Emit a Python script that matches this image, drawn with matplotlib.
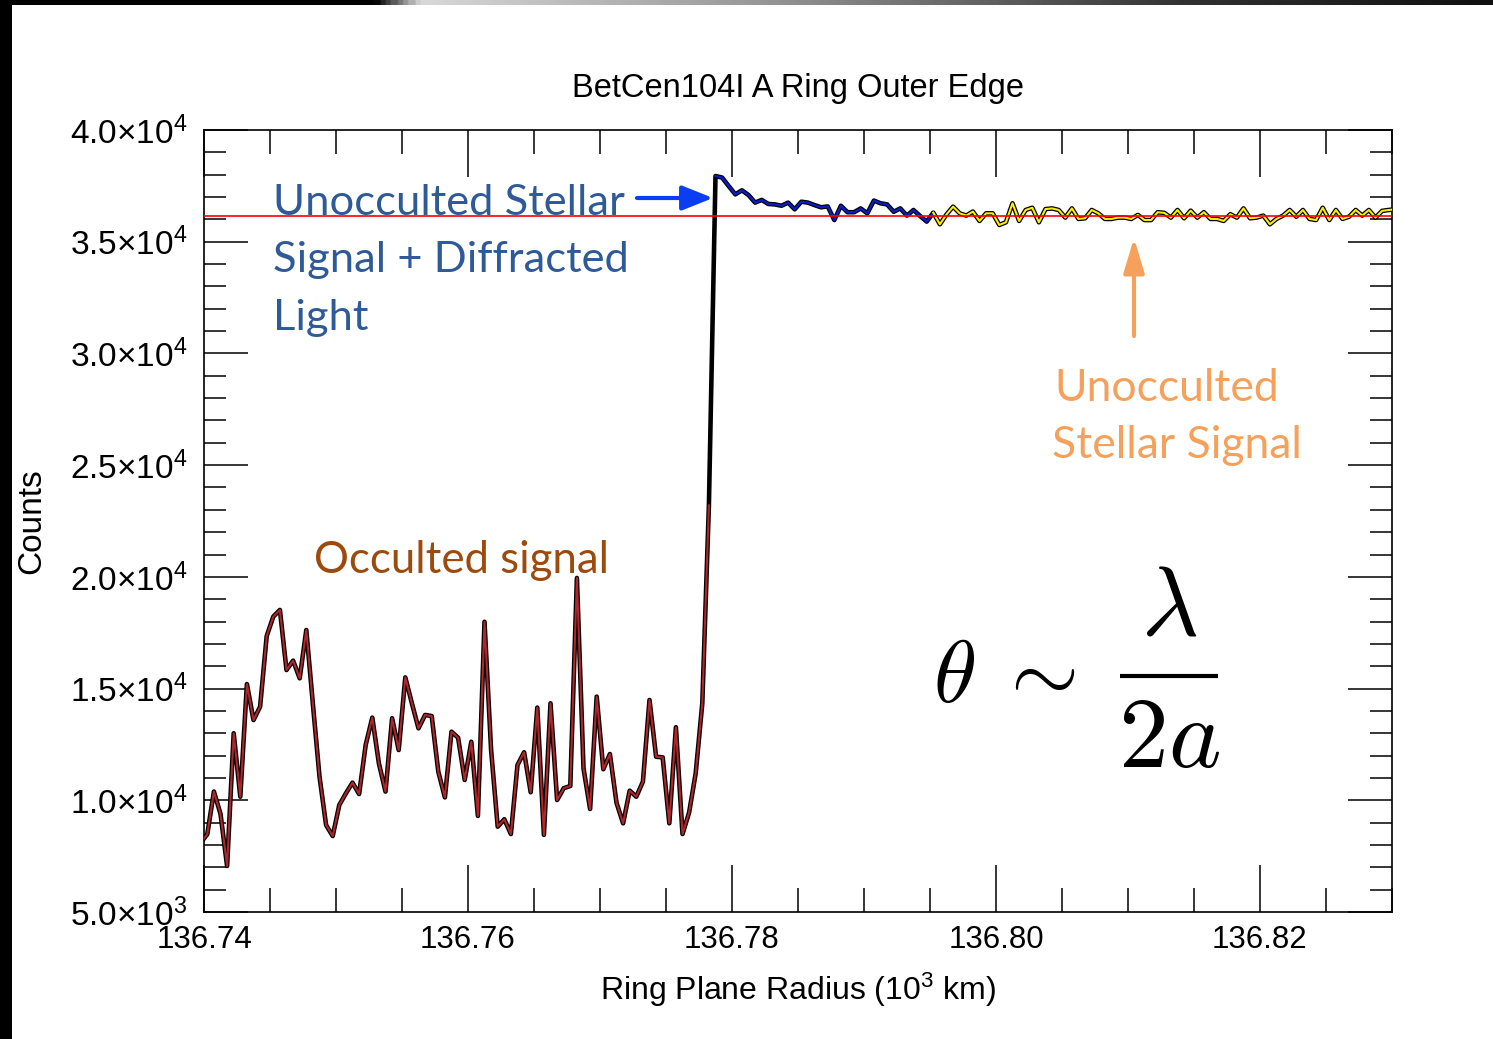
import numpy as np
import matplotlib
matplotlib.use("Agg")
import matplotlib.pyplot as plt
from matplotlib import font_manager
from matplotlib.ticker import MultipleLocator, FuncFormatter
from matplotlib.patches import Rectangle, FancyArrowPatch, ArrowStyle
from matplotlib.lines import Line2D
from matplotlib.colors import LinearSegmentedColormap

# ---------------------------------------------------------------- data
# Ring-plane radius sampling (10^3 km) and photon counts per sample
radius_start = 136.73975
radius_step = 0.0005

counts = [
    8100, 8480, 10390, 9390, 7060, 13000, 10160, 15200, 13590, 14190,
    17350, 18220, 18520, 15830, 16250, 15460, 17620, 14300, 11060, 8890,
    8400, 9790, 10310, 10790, 10280, 12480, 13700, 11650, 10390, 13670,
    12250, 15500, 14340, 13220, 13820, 13770, 11280, 10130, 13070, 12800,
    10910, 12620, 9300, 17990, 12250, 8820, 9150, 8490, 11580, 12150,
    10360, 14150, 8450, 14340, 10010, 10540, 10640, 19950, 11430, 9610,
    14640, 11390, 12070, 9890, 8970, 10430, 10160, 10830, 14490, 11950,
    11920, 8970, 13270, 8490, 9450, 11210, 14340, 23200, 37940, 37870,
    37490, 37120, 37300, 37090, 36750, 36870, 36690, 36670, 36610, 36750,
    36450, 36790, 36750, 36640, 36540, 36580, 35970, 36610, 36320, 36320,
    36490, 36270, 36840, 36720, 36670, 36340, 36490, 36170, 36420, 36150,
    35900, 36300, 35780, 36220, 36570, 36270, 36170, 36350, 35930, 36270,
    36270, 35750, 35870, 36720, 35930, 36420, 36520, 35870, 36460, 36490,
    36420, 36080, 36490, 36020, 36050, 36420, 36270, 36020, 36020, 36080,
    36080, 36020, 36200, 35970, 35970, 36320, 36290, 36080, 36420, 36050,
    36390, 36080, 36320, 36020, 36020, 35930, 36230, 36080, 36490, 36050,
    36080, 36170, 35780, 36020, 36170, 36420, 36120, 36420, 36020, 35970,
    36520, 35970, 36420, 36020, 36120, 36420, 36170, 36420, 36080, 36380,
    36420, 36450,
]

# sample indices that split the profile into its three regimes
occulted_last = 77        # last sample still behind the ring
diffracted_first = 78     # first sample past the edge (diffraction overshoot)
free_first = 111          # start of the unocculted stellar baseline

unocculted_level = 36160  # mean unocculted stellar signal

x_major_ticks = [136.74, 136.76, 136.78, 136.80, 136.82]
y_major_ticks = [5000, 10000, 15000, 20000, 25000, 30000, 35000, 40000]

# ---------------------------------------------------------------- fonts
available = {f.name for f in font_manager.fontManager.ttflist}
label_font = "Liberation Sans Narrow" if "Liberation Sans Narrow" in available else "Liberation Sans"
note_font = "Lato" if "Lato" in available else "DejaVu Sans"

plt.rcParams["font.family"] = [label_font, "DejaVu Sans"]
plt.rcParams["mathtext.fontset"] = "custom"
plt.rcParams["mathtext.rm"] = label_font
plt.rcParams["mathtext.it"] = label_font + ":italic"
plt.rcParams["mathtext.bf"] = label_font + ":bold"

W, H, DPI = 1493, 1039, 100
fig = plt.figure(figsize=(W / DPI, H / DPI), dpi=DPI, facecolor="white")


def px(x, y):
    """pixel position -> figure fraction"""
    return x / W, 1 - y / H


ax = fig.add_axes([204 / W, 1 - 912 / H, (1392 - 204) / W, (912 - 130) / H])

radius = radius_start + radius_step * np.arange(len(counts))
counts = np.asarray(counts, dtype=float)

ax.plot(radius, counts, color="black", lw=3.3, solid_joinstyle="round", zorder=2)
ax.plot(radius[:occulted_last + 1], counts[:occulted_last + 1],
        color="#b0262a", lw=1.5, solid_joinstyle="round", zorder=3)
ax.plot(radius[diffracted_first:free_first + 1], counts[diffracted_first:free_first + 1],
        color="#0a1ec8", lw=1.6, solid_joinstyle="round", zorder=3)
ax.plot(radius[free_first:], counts[free_first:],
        color="#ffee00", lw=1.5, solid_joinstyle="round", zorder=3)
ax.axhline(unocculted_level, color="#ff0000", lw=1.2, zorder=4)

ax.set_xlim(136.74, 136.83)
ax.set_ylim(5000, 40000)
ax.set_xticks(x_major_ticks)
ax.set_yticks(y_major_ticks)
ax.xaxis.set_minor_locator(MultipleLocator(0.005))
ax.yaxis.set_minor_locator(MultipleLocator(1000))
ax.xaxis.set_major_formatter(FuncFormatter(lambda v, p: f"{v:.2f}"))


def sci_label(v, pos):
    e = int(np.floor(np.log10(v)))
    m = v / 10 ** e
    return f"{m:.1f}×10$^{{{e}}}$"


ax.yaxis.set_major_formatter(FuncFormatter(sci_label))

ax.tick_params(axis="x", which="major", direction="in", length=34, width=1.1,
               top=True, bottom=True, pad=9, labelsize=22.5)
ax.tick_params(axis="x", which="minor", direction="in", length=17, width=1.1,
               top=True, bottom=True)
ax.tick_params(axis="y", which="major", direction="in", length=32, width=1.1,
               left=True, right=True, pad=12, labelsize=24)
ax.tick_params(axis="y", which="minor", direction="in", length=16, width=1.1,
               left=True, right=True)
for s in ax.spines.values():
    s.set_linewidth(1.2)

ax.set_title("BetCen104I A Ring Outer Edge", fontsize=23.5, pad=24)
ax.set_xlabel("Ring Plane Radius (10$^{3}$ km)", fontsize=23, labelpad=12)
ax.set_ylabel("Counts", fontsize=24, labelpad=16)

# ---------------------------------------------------------------- annotations
blue_txt = "#2f5a98"
for line, yb in (("Unocculted Stellar", 215), ("Signal + Diffracted", 272), ("Light", 330)):
    fig.text(*px(273, yb), line, fontsize=31.3, color=blue_txt, family=note_font,
             ha="left", va="baseline")

fig.text(*px(314, 573), "Occulted signal", fontsize=31.5, color="#9c4a0e",
         family=note_font, ha="left", va="baseline")

orange = "#f5a15c"
fig.text(*px(1054, 401), "Unocculted", fontsize=32, color=orange,
         family=note_font, ha="left", va="baseline")
fig.text(*px(1052, 458), "Stellar Signal", fontsize=32, color=orange,
         family=note_font, ha="left", va="baseline")

blue_arrow = FancyArrowPatch(px(637, 198), px(713, 198), transform=fig.transFigure,
                             arrowstyle=ArrowStyle("-|>", head_length=0.9, head_width=0.36),
                             mutation_scale=21, lw=3.0, color="#0b3ef2",
                             shrinkA=0, shrinkB=0)
fig.patches.append(blue_arrow)

orange_arrow = FancyArrowPatch(px(1134, 336), px(1134, 238), transform=fig.transFigure,
                               arrowstyle=ArrowStyle("-|>", head_length=1.0, head_width=0.3),
                               mutation_scale=21, lw=3.0, color=orange,
                               shrinkA=0, shrinkB=0)
fig.patches.append(orange_arrow)

# diffraction angle estimate: theta ~ lambda / 2a, set as a stacked fraction
fig.text(*px(933, 702), r"$\theta\;\sim$", fontsize=63,
         math_fontfamily="cm", ha="left", va="baseline", color="black")
fig.text(*px(1169, 636), r"$\lambda$", fontsize=71,
         math_fontfamily="cm", ha="center", va="baseline", color="black")
fig.text(*px(1169, 767), r"$2a$", fontsize=72,
         math_fontfamily="cm", ha="center", va="baseline", color="black")
bar_left, bar_y = px(1120, 676)
bar_right, _ = px(1218, 676)
fig.lines.append(Line2D([bar_left, bar_right], [bar_y, bar_y], transform=fig.transFigure,
                        color="black", lw=3.0, solid_capstyle="butt"))

# ---------------------------------------------------------------- slide frame
fig.patches.append(Rectangle((0, 0), 12 / W, 1, transform=fig.transFigure,
                             facecolor="black", edgecolor="none", zorder=10))
strip = fig.add_axes([0, 1 - 5 / H, 1, 5 / H], zorder=10)
frame_cmap = LinearSegmentedColormap.from_list(
    "frame", [(0.0, "#000000"), (0.25, "#000000"), (0.28, "#d8d8d8"),
              (0.5, "#9a9a9a"), (0.8, "#303030"), (1.0, "#101010")])
strip.imshow(np.linspace(0, 1, 600)[None, :], aspect="auto", cmap=frame_cmap,
             extent=(0, 1, 0, 1))
strip.set_axis_off()

fig.savefig("out.png", dpi=DPI, facecolor="white")
